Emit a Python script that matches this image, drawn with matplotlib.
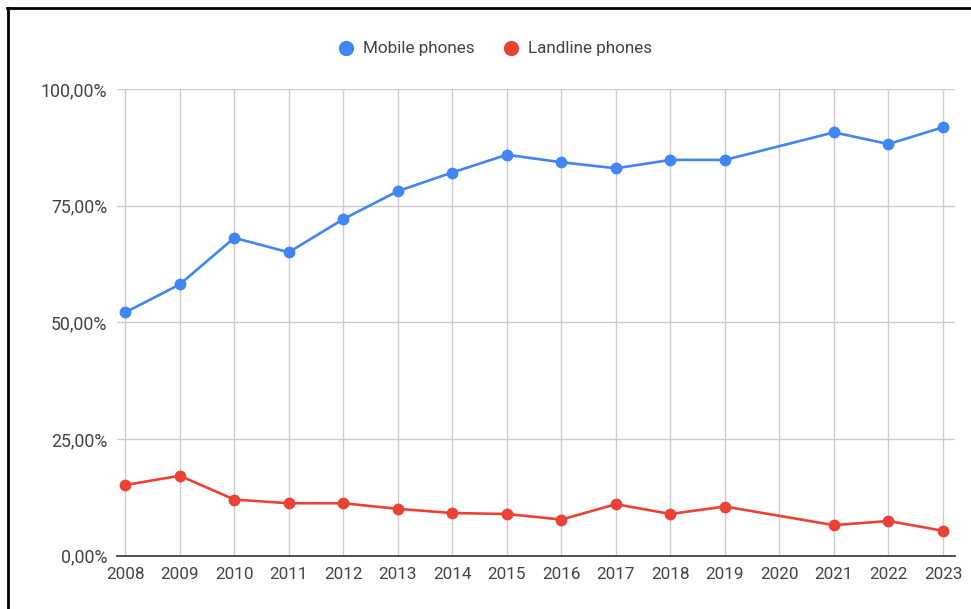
#imports
import numpy as np
import matplotlib
matplotlib.use("Agg")
import matplotlib.pyplot as plt
from matplotlib.lines import Line2D
from matplotlib.ticker import FuncFormatter

#data (2020 has no value, the line just joins 2019 to 2021)
years = [2008, 2009, 2010, 2011, 2012, 2013, 2014, 2015,
         2016, 2017, 2018, 2019, 2020, 2021, 2022, 2023]
mobile = [52.1, 58.1, 68.1, 65.0, 72.1, 78.1, 82.1, 85.9,
          84.3, 83.0, 84.8, 84.8, np.nan, 90.7, 88.2, 91.8]
landline = [15.1, 17.1, 12.0, 11.2, 11.2, 10.0, 9.1, 8.9,
            7.7, 11.0, 8.9, 10.5, np.nan, 6.5, 7.4, 5.3]
series_names = ["Mobile phones", "Landline phones"]
y_ticks = [0, 25, 50, 75, 100]

blue = "#4285F4"
red = "#EA4335"
text_col = "#444444"

plt.rcParams['font.family'] = ['Roboto', 'DejaVu Sans']

fig = plt.figure(figsize=(9.71, 6.09), dpi=100)
ax = fig.add_axes([117/971, 1 - 555.5/609, (955 - 117)/971, (555.5 - 89)/609])

x = np.array(years, dtype=float)
for vals, col in [(mobile, blue), (landline, red)]:
    v = np.array(vals, dtype=float)
    ok = ~np.isnan(v)
    ax.plot(x[ok], v[ok], color=col, lw=1.9, marker="o", markersize=8.5,
            markeredgewidth=0, zorder=3)

#axes
ax.set_xlim(2007.85, 2023.22)
ax.set_ylim(0, 100)
ax.set_xticks(years)
ax.set_xticklabels([str(y) for y in years])
ax.set_yticks(y_ticks)
ax.yaxis.set_major_formatter(FuncFormatter(lambda v, p: f"{v:.2f}%".replace(".", ",")))
ax.grid(True, color="#cccccc", lw=1.0)
ax.set_axisbelow(True)
for s in ["top", "right", "left"]:
    ax.spines[s].set_visible(False)
ax.spines["bottom"].set_color("#333333")
ax.spines["bottom"].set_linewidth(1.2)
ax.tick_params(axis="y", length=0, labelsize=12.8, labelcolor=text_col, pad=7)
ax.tick_params(axis="x", length=0, labelsize=12.3, labelcolor=text_col, pad=8)

#legend on top, markers only
handles = [Line2D([], [], ls="none", marker="o", markersize=11, color=c, markeredgewidth=0)
           for c in (blue, red)]
fig.legend(handles, series_names, loc="center", bbox_to_anchor=(495/971, 1 - 49/609),
           ncol=2, frameon=False, fontsize=12.3, labelcolor=text_col,
           handletextpad=0.5, columnspacing=1.6, handlelength=1.0)

#black frame at top and left edge of the screenshot
fig.add_artist(Line2D([7/971, 1], [1 - 8/609, 1 - 8/609], color="black", lw=2))
fig.add_artist(Line2D([8/971, 8/971], [0, 1 - 8/609], color="black", lw=2))

fig.savefig("out.png", dpi=100)
